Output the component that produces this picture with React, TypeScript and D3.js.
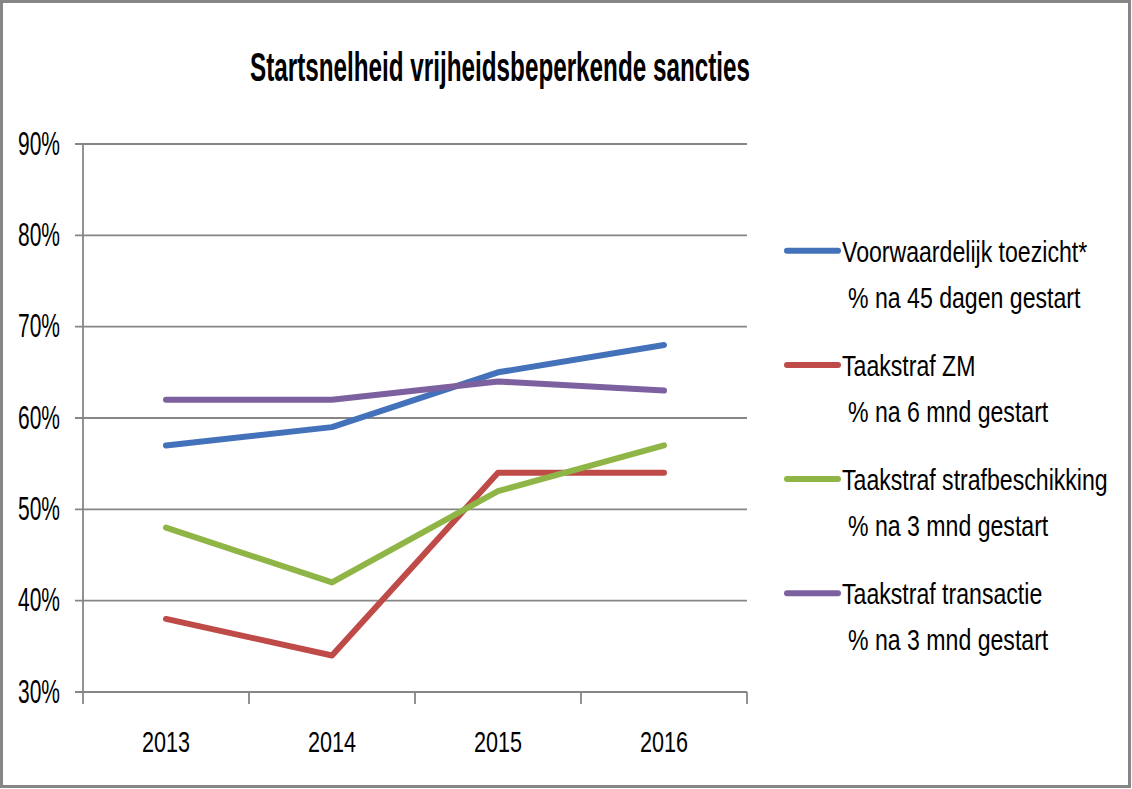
import React from "react";
import * as d3 from "d3";

const categories = ["2013", "2014", "2015", "2016"];
const yTicks = [0.3, 0.4, 0.5, 0.6, 0.7, 0.8, 0.9];

const seriesNames = [
  "Voorwaardelijk toezicht*",
  "Taakstraf ZM",
  "Taakstraf strafbeschikking",
  "Taakstraf transactie",
];
const seriesSubtitles = [
  "% na 45 dagen gestart",
  "% na 6 mnd gestart",
  "% na 3 mnd gestart",
  "% na 3 mnd gestart",
];
const seriesColors = ["#4472BA", "#BE4B48", "#8FB546", "#7D60A0"];

const voorwaardelijk = [0.57, 0.59, 0.65, 0.68];
const taakstrafZM = [0.38, 0.34, 0.54, 0.54];
const strafbeschikking = [0.48, 0.42, 0.52, 0.57];
const transactie = [0.62, 0.62, 0.64, 0.63];

const seriesValues = [voorwaardelijk, taakstrafZM, strafbeschikking, transactie];

const title = "Startsnelheid vrijheidsbeperkende sancties";

const FONT = "'Liberation Sans', Arial, sans-serif";

export default function App() {
  const W = 1132;
  const H = 789;
  const left = 83;
  const right = 747;
  const top = 144;
  const bottom = 692;

  const x = d3.scaleBand<string>().domain(categories).range([left, right]);
  const y = d3.scaleLinear().domain([0.3, 0.9]).range([bottom, top]);

  const line = d3
    .line<number>()
    .x((_, i) => (x(categories[i]) as number) + x.bandwidth() / 2)
    .y((d) => y(d));

  const boundaries = [...categories.map((c) => x(c) as number), right];

  const legendX1 = 787;
  const legendX2 = 838;
  const legendY0 = 250.7;
  const legendStep = 114.2;
  const legendScale = 0.77;

  return (
    <svg
      width={W}
      height={H}
      style={{ position: "absolute", left: 0, top: 0, background: "#fff" }}
    >
      <rect x={0} y={0} width={W} height={H} fill="#fff" />
      <rect
        x={1.5}
        y={1.5}
        width={W - 4}
        height={H - 4}
        fill="none"
        stroke="#868686"
        strokeWidth={3}
      />

      <text
        x={500}
        y={81}
        textAnchor="middle"
        fontFamily={FONT}
        fontWeight="bold"
        fontSize={40}
        textLength={500}
        lengthAdjust="spacingAndGlyphs"
        fill="#000"
      >
        {title}
      </text>

      {/* gridlines & y ticks */}
      {yTicks.map((t) => (
        <g key={t}>
          <line
            x1={left - 8}
            x2={right}
            y1={y(t)}
            y2={y(t)}
            stroke="#868686"
            strokeWidth={1.8}
          />
          <text
            x={60}
            y={y(t) + 10.5}
            textAnchor="end"
            fontFamily={FONT}
            fontSize={34}
            textLength={42}
            lengthAdjust="spacingAndGlyphs"
            fill="#000"
          >
            {d3.format(".0%")(t)}
          </text>
        </g>
      ))}

      {/* y axis */}
      <line x1={left} x2={left} y1={top} y2={bottom} stroke="#868686" strokeWidth={1.8} />

      {/* x ticks */}
      {boundaries.map((b, i) => (
        <line
          key={i}
          x1={b}
          x2={b}
          y1={bottom}
          y2={bottom + 12}
          stroke="#868686"
          strokeWidth={1.8}
        />
      ))}
      {categories.map((c) => (
        <text
          key={c}
          x={(x(c) as number) + x.bandwidth() / 2}
          y={752}
          textAnchor="middle"
          fontFamily={FONT}
          fontSize={29}
          textLength={48}
          lengthAdjust="spacingAndGlyphs"
          fill="#000"
        >
          {c}
        </text>
      ))}

      {/* series lines */}
      {seriesValues.map((vals, i) => (
        <path
          key={i}
          d={line(vals) || ""}
          fill="none"
          stroke={seriesColors[i]}
          strokeWidth={6}
          strokeLinejoin="round"
          strokeLinecap="round"
        />
      ))}

      {/* legend */}
      {seriesNames.map((name, i) => {
        const ly = legendY0 + i * legendStep;
        return (
          <g key={name}>
            <line
              x1={legendX1}
              x2={legendX2}
              y1={ly}
              y2={ly}
              stroke={seriesColors[i]}
              strokeWidth={6}
              strokeLinecap="round"
            />
            <text
              transform={`translate(842,${ly + 11}) scale(${legendScale},1)`}
              fontFamily={FONT}
              fontSize={30}
              fill="#000"
            >
              {name}
            </text>
            <text
              transform={`translate(848,${ly + 57}) scale(${legendScale},1)`}
              fontFamily={FONT}
              fontSize={30}
              fill="#000"
            >
              {seriesSubtitles[i]}
            </text>
          </g>
        );
      })}
    </svg>
  );
}
